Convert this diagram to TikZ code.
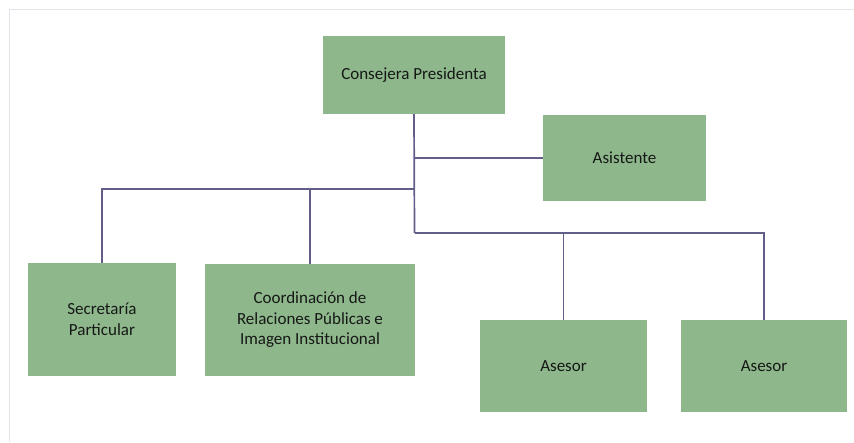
\documentclass[tikz,border=0pt]{standalone}
\usepackage{fontspec}
\setmainfont{Carlito}
\definecolor{boxgreen}{RGB}{142,183,140}
\definecolor{linecol}{RGB}{98,94,138}
\definecolor{framecol}{RGB}{226,226,232}
\definecolor{txtcol}{RGB}{22,24,22}
\begin{document}
\begin{tikzpicture}[x=1pt,y=-1pt,
  box/.style={fill=boxgreen, draw=none, inner sep=0pt, align=center,
    font=\fontsize{17}{20.5}\selectfont, text=txtcol},
  conn/.style={draw=linecol, line width=1.7pt}]
\useasboundingbox (0,0) rectangle (854,442);
\draw[framecol, line width=1.5pt] (9.5,442) -- (9.5,9.5) -- (854,9.5);

\node[box, minimum width=182pt, minimum height=78pt] (pres) at (414,75) {Consejera Presidenta};
\node[box, minimum width=163pt, minimum height=86pt] (asis) at (624.5,158) {Asistente};
\node[box, minimum width=148pt, minimum height=113pt] (sec) at (102,319.5) {Secretaría\\Particular};
\node[box, minimum width=210pt, minimum height=112pt] (coord) at (310,320) {Coordinación de\\Relaciones Públicas e\\Imagen Institucional};
\node[box, minimum width=167pt, minimum height=92pt] (ase1) at (563.5,366) {Asesor};
\node[box, minimum width=166pt, minimum height=92pt] (ase2) at (764,366) {Asesor};

\coordinate (busL) at (414.5,189);
\coordinate (busR) at (414.5,233);

\draw[conn] (pres.south) -- (busR);
\draw[conn] (pres.south |- asis.west) -- (asis.west);
\draw[conn] (sec.north) |- (busL);
\draw[conn] (coord.north) -- (coord.north |- busL);
\draw[conn] (ase2.north) |- (busR);
\draw[conn] (ase1.north) -- (ase1.north |- busR);
\end{tikzpicture}
\end{document}
